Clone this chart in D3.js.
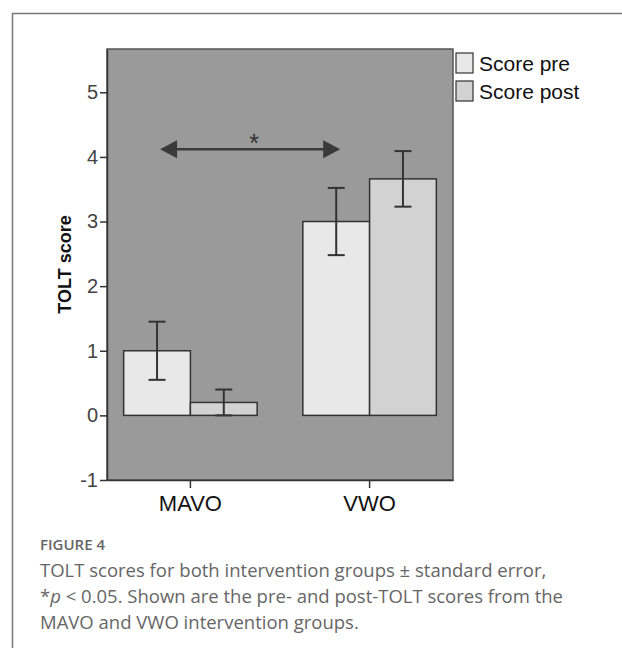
<!DOCTYPE html>
<html>
<head>
<meta charset="utf-8">
<script src="https://cdn.jsdelivr.net/npm/d3@7"></script>
<style>
  body { margin: 0; background: #fff; }
  svg { display: block; }
</style>
</head>
<body>
<div id="chart"></div>
<script>
// values
const groups = ['MAVO', 'VWO']
const series = ['Score pre', 'Score post']
const preMean = [1.0, 3.0]
const preErr = [0.45, 0.52]
const postMean = [0.2, 3.66]
const postErr = [0.2, 0.43]
const yTicks = [-1, 0, 1, 2, 3, 4, 5]
const sigLevel = 4.12
const sigLabel = '*'
const captionHead = 'FIGURE 4'

const W = 622, H = 648
const PLOT = { LEFT: 107, RIGHT: 453, TOP: 49, BOTTOM: 480 }
const colors = { 'Score pre': '#e8e8e8', 'Score post': '#d2d2d2' }
const ink = '#333'
const sans = 'Liberation Sans, Arial, sans-serif'

const svg = d3.select('#chart').append('svg')
    .attr('width', W)
    .attr('height', H)

// outer frame (only left and top edges visible)
svg.append('path')
    .attr('d', `M12.5,${H} V13.5 H${W}`)
    .attr('fill', 'none')
    .attr('stroke', '#777')
    .attr('stroke-width', 1.5)

const y = d3.scaleLinear()
    .domain([-1, 5.67])
    .range([PLOT.BOTTOM, PLOT.TOP])

const x0 = d3.scaleBand()
    .domain(groups)
    .range([PLOT.LEFT, PLOT.RIGHT])
    .paddingInner(0.255)
    .paddingOuter(0.093)

const x1 = d3.scaleBand()
    .domain(series)
    .range([0, x0.bandwidth()])

const rows = groups.flatMap((g, i) => [
    { group: g, key: 'Score pre', mean: preMean[i], err: preErr[i] },
    { group: g, key: 'Score post', mean: postMean[i], err: postErr[i] }
])

// plot background
svg.append('rect')
    .attr('x', PLOT.LEFT)
    .attr('y', PLOT.TOP)
    .attr('width', PLOT.RIGHT - PLOT.LEFT)
    .attr('height', PLOT.BOTTOM - PLOT.TOP)
    .attr('fill', '#9a9a9a')
    .attr('stroke', '#555')
    .attr('stroke-width', 1.5)

// axes
const yAxis = svg.append('g')
    .attr('transform', `translate(${PLOT.LEFT},0)`)
    .call(d3.axisLeft(y).tickValues(yTicks).tickSize(7).tickSizeOuter(0)
        .tickPadding(2).tickFormat(d => String(d)))
yAxis.select('.domain').attr('stroke', ink).attr('stroke-width', 1.5)
yAxis.selectAll('.tick line').attr('stroke', ink).attr('stroke-width', 1.5)
yAxis.selectAll('.tick text')
    .attr('font-family', sans)
    .attr('font-size', 20)
    .attr('fill', '#444')

const xAxis = svg.append('g')
    .attr('transform', `translate(0,${PLOT.BOTTOM})`)
    .call(d3.axisBottom(x0).tickSize(8).tickSizeOuter(0).tickPadding(7))
xAxis.select('.domain').attr('stroke', ink).attr('stroke-width', 1.5)
xAxis.selectAll('.tick line').attr('stroke', ink).attr('stroke-width', 1.5)
xAxis.selectAll('.tick text')
    .attr('font-family', sans)
    .attr('font-size', 22)
    .attr('fill', '#111')

svg.append('text')
    .attr('transform', `translate(71,${(PLOT.TOP + PLOT.BOTTOM) / 2}) rotate(-90)`)
    .attr('text-anchor', 'middle')
    .attr('font-family', sans)
    .attr('font-weight', 'bold')
    .attr('font-size', 18)
    .attr('fill', '#111')
    .text('TOLT score')

// bars
svg.append('g').selectAll('rect')
    .data(rows)
    .join('rect')
    .attr('x', d => x0(d.group) + x1(d.key))
    .attr('y', d => y(d.mean))
    .attr('width', x1.bandwidth())
    .attr('height', d => y(0) - y(d.mean))
    .attr('fill', d => colors[d.key])
    .attr('stroke', ink)
    .attr('stroke-width', 1.5)

// error bars
const capW = 8.5
const eb = svg.append('g')
    .attr('stroke', ink)
    .attr('stroke-width', 2)
    .selectAll('g')
    .data(rows)
    .join('g')
    .attr('transform', d => `translate(${x0(d.group) + x1(d.key) + x1.bandwidth() / 2},0)`)
eb.append('line')
    .attr('y1', d => y(d.mean - d.err))
    .attr('y2', d => y(d.mean + d.err))
eb.append('line')
    .attr('x1', -capW).attr('x2', capW)
    .attr('y1', d => y(d.mean + d.err))
    .attr('y2', d => y(d.mean + d.err))
eb.append('line')
    .attr('x1', -capW).attr('x2', capW)
    .attr('y1', d => y(d.mean - d.err))
    .attr('y2', d => y(d.mean - d.err))

// significance arrow between pre scores
const ax1 = x0(groups[0]) + x1('Score pre') + x1.bandwidth() / 2 + 3
const ax2 = x0(groups[1]) + x1('Score pre') + x1.bandwidth() / 2 + 4
const ay = y(sigLevel)
const head = 17, half = 9
svg.append('line')
    .attr('x1', ax1 + head - 2).attr('x2', ax2 - head + 2)
    .attr('y1', ay).attr('y2', ay)
    .attr('stroke', '#3a3a3a')
    .attr('stroke-width', 2.5)
svg.append('path')
    .attr('d', `M${ax1},${ay} L${ax1 + head},${ay - half} L${ax1 + head},${ay + half} Z`)
    .attr('fill', '#3a3a3a')
svg.append('path')
    .attr('d', `M${ax2},${ay} L${ax2 - head},${ay - half} L${ax2 - head},${ay + half} Z`)
    .attr('fill', '#3a3a3a')
svg.append('text')
    .attr('x', (ax1 + ax2) / 2 + 4)
    .attr('y', ay + 3)
    .attr('text-anchor', 'middle')
    .attr('font-family', sans)
    .attr('font-size', 26)
    .attr('fill', '#333')
    .text(sigLabel)

// legend
const lg = svg.append('g')
    .selectAll('g')
    .data(series)
    .join('g')
    .attr('transform', (d, i) => `translate(456,${53 + i * 28})`)
lg.append('rect')
    .attr('width', 17)
    .attr('height', 20)
    .attr('fill', d => colors[d])
    .attr('stroke', ink)
    .attr('stroke-width', 1.2)
lg.append('text')
    .attr('x', 23)
    .attr('y', 18)
    .attr('font-family', sans)
    .attr('font-size', 21)
    .attr('fill', '#111')
    .text(d => d)

// caption
svg.append('text')
    .attr('x', 40)
    .attr('y', 550)
    .attr('font-family', 'Open Sans, sans-serif')
    .attr('font-weight', 600)
    .attr('font-size', 15)
    .attr('fill', '#666')
    .text(captionHead)

const cap = svg.append('text')
    .attr('font-family', 'Open Sans, sans-serif')
    .attr('font-size', 18.5)
    .attr('fill', '#666')
cap.append('tspan').attr('x', 40).attr('y', 577)
    .text('TOLT scores for both intervention groups \u00b1 standard error,')
const l2 = cap.append('tspan').attr('x', 40).attr('y', 603)
l2.text('*')
cap.append('tspan').attr('font-style', 'italic').text('p')
cap.append('tspan').text(' < 0.05. Shown are the pre- and post-TOLT scores from the')
cap.append('tspan').attr('x', 40).attr('y', 629)
    .text('MAVO and VWO intervention groups.')
</script>
</body>
</html>
